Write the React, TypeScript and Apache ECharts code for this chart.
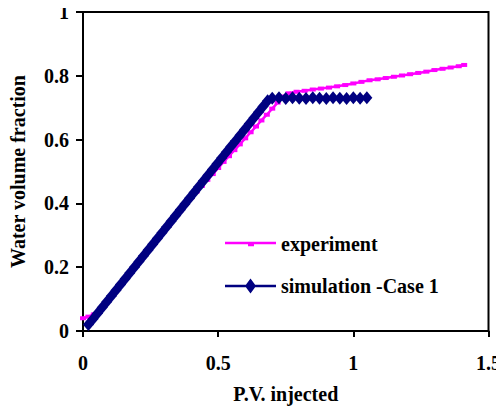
import React, { useEffect, useRef } from "react";
import * as echarts from "echarts";

const expX = [0, 0.02, 0.04, 0.06, 0.08, 0.1, 0.12, 0.14, 0.16, 0.18, 0.2, 0.22, 0.24, 0.26, 0.28, 0.3, 0.32, 0.34, 0.36, 0.38, 0.4, 0.42, 0.44, 0.46, 0.48, 0.5, 0.52, 0.54, 0.56, 0.58, 0.6, 0.62, 0.64, 0.66, 0.68, 0.7, 0.72, 0.74, 0.76, 0.79, 0.82, 0.85, 0.88, 0.91, 0.94, 0.97, 1.0, 1.03, 1.06, 1.09, 1.12, 1.15, 1.18, 1.21, 1.24, 1.27, 1.3, 1.33, 1.36, 1.39, 1.41];
const expY = [0.04, 0.045, 0.052, 0.064, 0.084, 0.104, 0.125, 0.146, 0.167, 0.188, 0.209, 0.23, 0.251, 0.272, 0.293, 0.314, 0.335, 0.356, 0.377, 0.398, 0.418, 0.437, 0.455, 0.474, 0.492, 0.511, 0.53, 0.548, 0.567, 0.585, 0.604, 0.623, 0.641, 0.66, 0.678, 0.697, 0.716, 0.735, 0.745, 0.75, 0.753, 0.757, 0.76, 0.763, 0.767, 0.771, 0.776, 0.781, 0.786, 0.789, 0.793, 0.797, 0.801, 0.805, 0.809, 0.813, 0.818, 0.822, 0.826, 0.83, 0.834];

const simX = [0.02, 0.037, 0.054, 0.071, 0.088, 0.105, 0.122, 0.139, 0.156, 0.173, 0.19, 0.207, 0.224, 0.241, 0.258, 0.275, 0.292, 0.309, 0.326, 0.343, 0.36, 0.377, 0.394, 0.411, 0.428, 0.445, 0.462, 0.479, 0.496, 0.513, 0.53, 0.547, 0.564, 0.581, 0.598, 0.615, 0.632, 0.649, 0.666, 0.683, 0.7, 0.725, 0.75, 0.775, 0.8, 0.825, 0.85, 0.875, 0.9, 0.925, 0.95, 0.975, 1.0, 1.025, 1.05];
const simY = [0.02, 0.038, 0.056, 0.074, 0.092, 0.11, 0.128, 0.146, 0.164, 0.182, 0.2, 0.218, 0.236, 0.254, 0.272, 0.29, 0.308, 0.326, 0.344, 0.362, 0.38, 0.398, 0.416, 0.434, 0.452, 0.47, 0.488, 0.506, 0.524, 0.542, 0.56, 0.578, 0.596, 0.614, 0.632, 0.65, 0.668, 0.686, 0.704, 0.722, 0.73, 0.731, 0.729, 0.731, 0.73, 0.729, 0.731, 0.73, 0.729, 0.731, 0.73, 0.729, 0.731, 0.73, 0.731];

const xTicks = [0, 0.5, 1, 1.5];
const yTicks = [0, 0.2, 0.4, 0.6, 0.8, 1];

const seriesNames = ["experiment", "simulation -Case 1"];

const FONT = "'Liberation Serif', 'Times New Roman', serif";

export default function App() {
  const ref = useRef<HTMLDivElement>(null);
  useEffect(() => {
    if (!ref.current) return;
    const chart = echarts.init(ref.current, null, { renderer: "svg" });
    const labelStyle = { fontFamily: FONT, fontWeight: "bold", fontSize: 20, color: "#000" };
    chart.setOption({
      animation: false,
      backgroundColor: "#fff",
      grid: {
        left: 80,
        right: 14,
        top: 12,
        bottom: 80,
        show: true,
        borderColor: "#000",
        borderWidth: 2,
        backgroundColor: "transparent",
      },
      legend: {
        orient: "vertical",
        left: 225,
        top: 234,
        padding: 0,
        itemWidth: 51,
        itemHeight: 15,
        itemGap: 22,
        symbolKeepAspect: true,
        data: [
          {
            name: seriesNames[0],
            icon: "path://M0,0H51V2.4H0Z M23,2.4H29V4.4H23Z",
            itemStyle: { color: "#FF00FF" },
          },
          {
            name: seriesNames[1],
            icon: "path://M25.5,0L31,7.5L25.5,15L20,7.5Z M0,6.3H51V8.7H0Z",
            itemStyle: { color: "#000080" },
          },
        ],
        textStyle: { ...labelStyle },
      },
      xAxis: {
        type: "value",
        min: 0,
        max: 1.5,
        interval: 0.5,
        name: "P.V. injected",
        nameLocation: "middle",
        nameGap: 53,
        nameTextStyle: { ...labelStyle },
        axisLine: { lineStyle: { color: "#000", width: 2 } },
        axisTick: { show: true, length: 6, lineStyle: { color: "#000", width: 2 } },
        axisLabel: {
          ...labelStyle,
          margin: 22,
          formatter: (v: number) => (xTicks.includes(v) ? String(v) : ""),
        },
        splitLine: { show: false },
      },
      yAxis: {
        type: "value",
        min: 0,
        max: 1,
        interval: 0.2,
        name: "Water volume fraction",
        nameLocation: "middle",
        nameGap: 55,
        nameTextStyle: { ...labelStyle },
        axisLine: { lineStyle: { color: "#000", width: 2 } },
        axisTick: { show: true, length: 7, lineStyle: { color: "#000", width: 2 } },
        axisLabel: {
          ...labelStyle,
          margin: 14,
          formatter: (v: number) => {
            const t = yTicks.find((y) => Math.abs(y - v) < 1e-9);
            return t === undefined ? "" : String(t);
          },
        },
        splitLine: { show: false },
      },
      series: [
        {
          name: seriesNames[0],
          type: "line",
          data: expX.map((x, i) => [x, expY[i]]),
          symbol: "rect",
          symbolSize: [6, 4],
          showAllSymbol: true,
          itemStyle: { color: "#FF00FF" },
          lineStyle: { color: "#FF00FF", width: 2.5 },
        },
        {
          name: seriesNames[1],
          type: "line",
          data: simX.map((x, i) => [x, simY[i]]),
          symbol: "diamond",
          symbolSize: [11, 13],
          showAllSymbol: true,
          itemStyle: { color: "#000080" },
          lineStyle: { color: "#000080", width: 2.5 },
        },
      ],
    });
    return () => chart.dispose();
  }, []);
  return <div ref={ref} style={{ width: 504, height: 411, marginLeft: -8, marginTop: -8 }} />;
}
